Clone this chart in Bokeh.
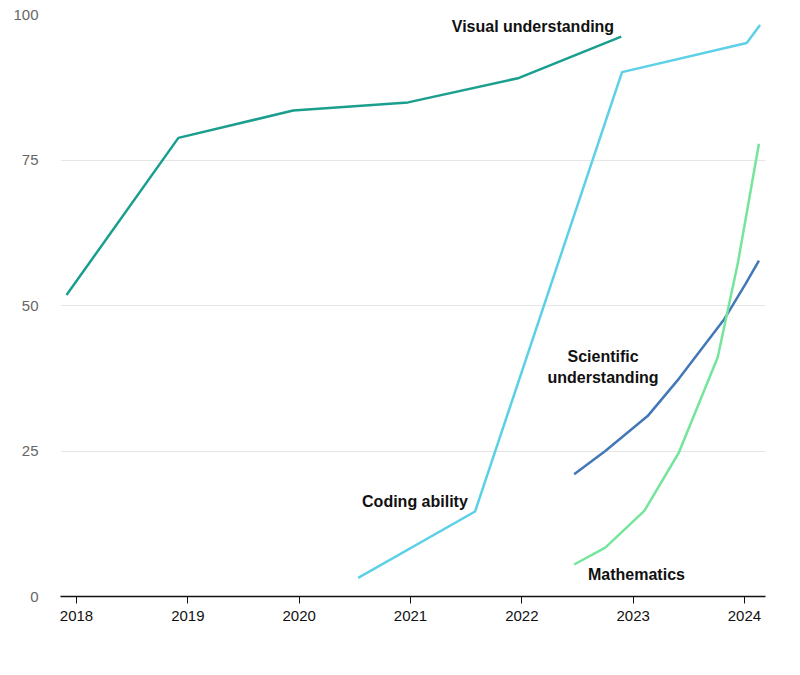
from bokeh.plotting import figure
from bokeh.models import Range1d, FixedTicker
from bokeh.core.properties import value
from bokeh.embed import file_html
from bokeh.resources import INLINE

# Data (year as decimal, score)
visual_x = [2017.91, 2018.915, 2019.946, 2020.978, 2021.975, 2022.893]
visual_y = [51.8, 78.8, 83.5, 84.9, 89.1, 96.2]

coding_x = [2020.53, 2021.58, 2022.90, 2024.02, 2024.14]
coding_y = [3.2, 14.6, 90.1, 95.1, 98.2]

science_x = [2022.47, 2022.75, 2023.13, 2023.41, 2023.82, 2024.01, 2024.13]
science_y = [21.0, 25.0, 31.0, 37.4, 47.7, 53.7, 57.7]

math_x = [2022.47, 2022.75, 2023.10, 2023.41, 2023.76, 2023.94, 2024.13]
math_y = [5.5, 8.4, 14.7, 24.7, 41.1, 57.2, 77.8]

x_ticks = [2018, 2019, 2020, 2021, 2022, 2023, 2024]
y_ticks = [0, 25, 50, 75, 100]

label_text = ["Visual understanding", "Coding ability", "Scientific", "understanding", "Mathematics"]
label_x = [2022.10, 2021.04, 2022.73, 2022.73, 2023.03]
label_y = [97.9, 16.4, 41.2, 37.6, 3.7]

p = figure(width=784, height=659, output_backend="svg", toolbar_location=None,
           x_range=Range1d(2017.856, 2024.189), y_range=Range1d(0, 100),
           min_border_left=60, min_border_right=19, min_border_top=14, min_border_bottom=63)
p.outline_line_color = None
p.background_fill_color = "white"

p.line(visual_x, visual_y, line_color="#1a9e8e", line_width=2.5)
p.line(coding_x, coding_y, line_color="#5cd0e6", line_width=2.5)
p.line(science_x, science_y, line_color="#4277b8", line_width=2.5)
p.line(math_x, math_y, line_color="#74e59b", line_width=2.5)

p.text(x=label_x, y=label_y, text=label_text, text_font=value("Liberation Sans"),
       text_font_style="bold", text_font_size="16px", text_color="#111111",
       text_align="center", text_baseline="middle")

p.xgrid.grid_line_color = None
p.ygrid.grid_line_color = "#e6e6e6"
p.ygrid.grid_line_width = 1

p.xaxis.ticker = FixedTicker(ticks=x_ticks)
p.xaxis.axis_line_color = "#111111"
p.xaxis.axis_line_width = 1.5
p.xaxis.major_tick_in = 0
p.xaxis.major_tick_out = 7
p.xaxis.major_tick_line_color = "#111111"
p.xaxis.minor_tick_line_color = None
p.xaxis.major_label_text_font = "Liberation Sans"
p.xaxis.major_label_text_font_size = "15px"
p.xaxis.major_label_text_color = "#111111"
p.xaxis.major_label_standoff = 7

p.yaxis.ticker = FixedTicker(ticks=y_ticks)
p.yaxis.axis_line_color = None
p.yaxis.major_tick_line_color = None
p.yaxis.minor_tick_line_color = None
p.yaxis.major_label_text_font = "Liberation Sans"
p.yaxis.major_label_text_font_size = "15px"
p.yaxis.major_label_text_color = "#666666"
p.yaxis.major_label_standoff = 16

open("out.html", "w").write(file_html(p, INLINE))
